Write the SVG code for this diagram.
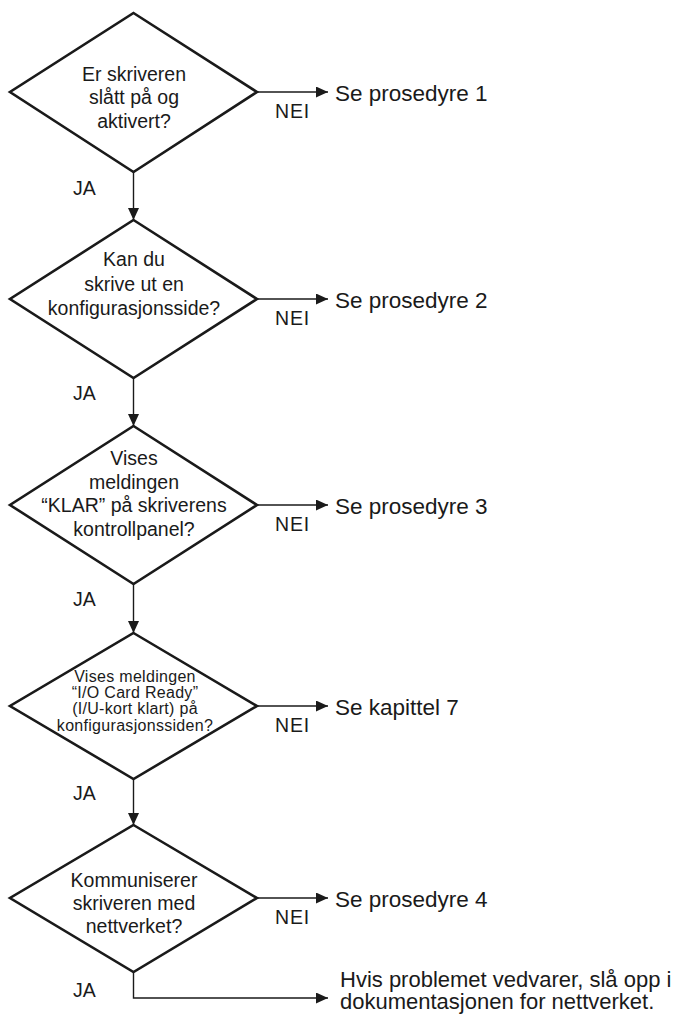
<svg xmlns="http://www.w3.org/2000/svg" width="690" height="1021" viewBox="0 0 690 1021">
<defs>
<marker id="ah" markerUnits="userSpaceOnUse" markerWidth="13" markerHeight="12" refX="12" refY="5.5" orient="auto">
<path d="M0,0 L12,5.5 L0,11 z" fill="#1a1a1a"/>
</marker>
<style>
.d{fill:#fff;stroke:#1a1a1a;stroke-width:2.6;stroke-linejoin:miter}
.c{fill:none;stroke:#1a1a1a;stroke-width:1.4;marker-end:url(#ah)}
text{font-family:"Liberation Sans",Arial,Helvetica,sans-serif;fill:#1a1a1a}
.q{font-size:19.5px;text-anchor:middle}
.q4{font-size:16px;text-anchor:middle;letter-spacing:0.3px}
.r{font-size:22.5px}
.n{font-size:19.5px;letter-spacing:0.8px}
.j{font-size:19.5px}
.b{font-size:22px}
</style>
</defs>
<rect width="690" height="1021" fill="#fff"/>
<g id="connectors">
<path class="c" d="M133.5,172 V220"/>
<path class="c" d="M133.5,378 V426"/>
<path class="c" d="M133.5,584 V633"/>
<path class="c" d="M133.5,779 V825"/>
<path class="c" d="M257,92 H328"/>
<path class="c" d="M257,299 H328"/>
<path class="c" d="M257,505 H328"/>
<path class="c" d="M257,706 H328"/>
<path class="c" d="M257,898 H328"/>
<path class="c" d="M133.5,972 V998 H328"/>
<text class="n" x="275" y="118">NEI</text>
<text class="n" x="275" y="325">NEI</text>
<text class="n" x="275" y="531">NEI</text>
<text class="n" x="275" y="732">NEI</text>
<text class="n" x="275" y="924">NEI</text>
<text class="j" x="73" y="195">JA</text>
<text class="j" x="73" y="400">JA</text>
<text class="j" x="73" y="606">JA</text>
<text class="j" x="73" y="800">JA</text>
<text class="j" x="73" y="997">JA</text>
</g>
<g id="d1">
<polygon class="d" points="133.5,13 257,92 133.5,172 10,92"/>
<text class="q" x="134" y="80.5">Er skriveren</text>
<text class="q" x="134" y="104">slått på og</text>
<text class="q" x="134" y="127.5">aktivert?</text>
</g>
<g id="d2">
<polygon class="d" points="133.5,220 257,299 133.5,378 10,299"/>
<text class="q" x="134" y="266">Kan du</text>
<text class="q" x="134" y="290.5">skrive ut en</text>
<text class="q" x="134" y="315">konfigurasjonsside?</text>
</g>
<g id="d3">
<polygon class="d" points="133.5,426 257,505 133.5,584 10,505"/>
<text class="q" x="134" y="465">Vises</text>
<text class="q" x="134" y="488.5">meldingen</text>
<text class="q" x="134" y="512">“KLAR” på skriverens</text>
<text class="q" x="134" y="535.5">kontrollpanel?</text>
</g>
<g id="d4">
<polygon class="d" points="133.5,633 257,706 133.5,779 10,706"/>
<text class="q4" x="135" y="682">Vises meldingen</text>
<text class="q4" x="135" y="698">“I/O Card Ready”</text>
<text class="q4" x="135" y="714">(I/U-kort klart) på</text>
<text class="q4" x="135" y="730.5">konfigurasjonssiden?</text>
</g>
<g id="d5">
<polygon class="d" points="133.5,825 257,898 133.5,972 10,898"/>
<text class="q" x="134" y="887">Kommuniserer</text>
<text class="q" x="134" y="910">skriveren med</text>
<text class="q" x="134" y="933">nettverket?</text>
</g>
<g id="t1"><text class="r" x="335" y="100.5">Se prosedyre 1</text></g>
<g id="t2"><text class="r" x="335" y="307.5">Se prosedyre 2</text></g>
<g id="t3"><text class="r" x="335" y="513.5">Se prosedyre 3</text></g>
<g id="t4"><text class="r" x="335" y="714.5">Se kapittel 7</text></g>
<g id="t5"><text class="r" x="335" y="906.5">Se prosedyre 4</text></g>
<g id="t6">
<text class="b" x="340" y="987">Hvis problemet vedvarer, slå opp i</text>
<text class="b" x="340" y="1009">dokumentasjonen for nettverket.</text>
</g>
</svg>
